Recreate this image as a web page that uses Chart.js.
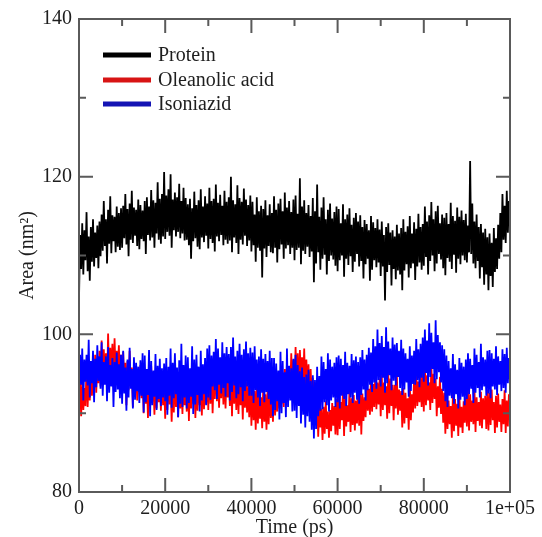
<!DOCTYPE html>
<html>
<head>
<meta charset="utf-8">
<script src="https://cdn.jsdelivr.net/npm/chart.js@4.4.1/dist/chart.umd.min.js"></script>
<style>
  html, body { margin: 0; padding: 0; background: #ffffff; }
  #wrap { width: 542px; height: 537px; }
</style>
</head>
<body>
<div id="wrap"><canvas id="c" width="542" height="537"></canvas></div>
<script>
const TIME_STEP_PS = 250;
const SERIES_NAMES = ["Protein", "Oleanolic acid", "Isoniazid"];

const protein = [
104.5,112.6,108.3,114.1,107.6,113.2,109.4,115.5,108.0,112.4,106.8,113.6,109.2,114.6,108.6,112.9,109.7,113.8,108.4,114.3,
109.9,115.2,110.6,116.9,111.2,114.6,109.0,115.8,111.5,117.5,110.3,115.1,111.8,114.9,110.4,116.2,111.1,115.4,110.7,116.0,
111.0,116.3,112.2,117.8,111.4,115.9,109.9,116.6,112.0,118.2,111.6,116.1,112.5,115.8,111.2,117.1,110.8,116.4,112.1,115.7,
111.8,116.9,110.2,117.4,112.6,116.2,111.9,118.3,112.3,117.0,111.0,116.7,112.8,119.3,112.0,117.2,111.5,117.8,112.4,120.6,
112.1,117.6,113.0,118.4,112.5,120.3,111.0,117.1,113.2,118.0,112.4,117.4,113.0,119.1,112.2,116.9,112.8,118.6,111.9,117.3,
112.0,116.5,111.3,117.2,109.6,116.0,111.8,118.1,112.2,116.4,111.1,117.0,110.8,118.4,112.3,116.2,111.7,117.5,112.5,116.6,
110.9,118.6,112.1,116.9,111.6,117.2,110.5,119.0,112.4,116.7,111.8,117.7,112.6,116.3,111.3,118.2,112.0,116.8,111.5,117.4,
111.9,120.0,110.4,117.0,112.3,116.5,111.6,118.9,110.2,117.3,112.0,116.8,111.4,118.5,112.5,117.1,111.2,116.4,111.9,117.6,
110.5,116.8,111.3,115.2,109.2,117.4,111.0,115.6,110.6,116.3,107.2,115.9,110.9,117.0,109.8,115.1,111.2,116.5,110.4,115.4,
110.3,117.5,111.0,115.8,109.1,116.6,110.8,117.2,111.4,115.6,109.6,118.0,110.9,116.1,111.3,116.9,110.2,115.5,111.0,117.1,
109.4,117.6,110.7,115.3,111.0,119.8,108.9,116.2,110.6,117.0,110.2,115.4,111.1,116.4,109.8,115.0,110.5,117.3,106.6,115.6,
109.0,119.0,110.4,114.9,108.2,116.1,109.6,117.4,110.1,114.6,107.6,115.8,109.3,116.6,110.0,114.7,109.5,115.5,108.7,116.2,
108.0,115.9,109.4,114.1,110.0,116.5,107.3,114.6,109.6,115.2,108.8,116.0,109.9,113.9,107.9,114.8,109.2,115.4,110.2,114.3,
108.6,115.1,109.3,113.6,107.1,114.5,108.9,114.0,109.6,113.2,106.8,115.0,108.2,114.2,109.4,113.5,108.5,114.6,109.1,113.3,
107.4,114.3,108.6,112.6,104.3,113.6,107.9,114.1,108.8,112.9,106.2,113.2,108.3,112.4,107.0,113.9,108.1,112.8,107.6,113.5,
105.6,114.6,108.1,113.0,108.9,113.7,107.2,115.0,108.4,112.8,109.0,114.2,106.9,113.4,108.6,115.3,109.1,113.6,108.2,114.0,
108.7,116.2,109.8,114.3,107.6,115.1,109.3,116.8,110.0,114.6,108.0,115.6,109.0,116.3,110.2,114.1,109.5,115.2,108.4,114.8,
107.5,115.4,109.7,114.0,109.2,116.7,108.3,115.0,110.1,114.4,107.8,116.1,109.6,114.9,108.9,115.7,110.0,114.5,109.4,115.3,
109.1,113.8,110.4,122.0,110.2,116.6,109.0,114.3,108.4,115.2,109.3,113.6,107.1,114.0,108.5,112.9,106.3,113.4,107.6,112.3,
105.6,112.8,107.4,111.6,106.0,113.5,107.9,112.2,108.3,113.9,109.6,115.4,110.4,117.8,112.0,116.3,111.6,118.2,112.9,116.9,
113.8
];

const oleanolicAcid = [
91.0,93.8,89.6,94.1,90.4,93.2,90.9,96.0,90.8,94.4,91.6,95.5,92.2,94.9,93.0,97.4,92.6,96.8,93.8,97.9,
93.4,99.2,94.6,98.1,95.0,97.6,93.0,100.1,94.9,98.3,95.4,98.8,93.7,99.5,94.8,97.9,95.2,98.6,94.1,97.4,
92.3,97.8,93.2,96.4,91.0,96.6,92.9,97.9,93.5,95.8,90.8,96.2,92.4,95.6,91.6,95.4,92.7,96.1,91.9,95.0,
90.0,95.6,91.2,94.1,89.4,94.8,90.9,96.0,91.5,93.9,89.8,94.5,90.6,95.1,91.4,94.2,90.3,94.7,91.0,93.8,
89.3,94.8,90.4,95.5,91.1,93.6,88.9,94.2,90.1,95.0,90.8,93.7,89.5,94.6,90.6,93.9,89.9,94.4,91.0,93.5,
90.2,95.3,89.0,94.4,90.6,95.8,91.2,93.9,89.4,94.1,90.3,95.0,91.0,94.2,89.7,94.8,90.5,93.6,91.1,95.2,
90.4,96.2,91.2,95.4,90.0,94.6,91.8,96.5,91.5,95.8,90.7,94.9,91.9,96.0,91.1,95.2,90.6,95.7,92.0,94.8,
90.9,95.7,89.6,96.1,91.2,94.3,90.4,95.0,89.9,94.6,91.0,93.9,89.2,95.2,90.7,94.0,90.1,93.5,89.5,94.1,
88.4,93.6,89.1,92.8,87.9,93.9,88.7,92.5,89.3,92.0,88.1,93.3,88.9,92.4,87.9,92.9,88.6,93.1,89.4,92.6,
88.9,93.8,89.7,92.9,90.2,94.6,90.6,95.0,91.2,94.1,90.8,95.6,91.6,96.4,92.5,95.5,92.8,97.6,93.2,96.8,
93.0,98.4,94.0,97.6,92.8,98.0,94.4,97.1,93.6,98.2,93.1,96.8,92.9,96.2,91.4,95.6,92.0,94.5,90.6,93.8,
89.0,92.2,87.0,91.0,88.2,90.6,86.6,90.8,87.4,91.5,88.0,90.2,86.9,90.4,87.7,91.3,88.4,90.9,87.3,91.8,
87.2,92.6,88.0,91.4,89.1,93.0,87.1,92.2,88.3,91.0,88.9,92.8,87.6,91.9,88.5,92.3,87.8,91.6,88.7,92.5,
88.4,93.2,87.3,92.5,89.0,92.0,89.5,94.0,90.3,93.1,89.8,94.6,90.2,93.7,90.8,95.0,90.5,93.9,91.1,94.4,
89.6,94.8,90.4,93.9,91.0,93.4,89.3,95.2,90.0,94.4,90.9,93.6,89.1,93.6,90.6,94.9,89.8,93.0,90.3,92.8,
88.2,93.2,88.7,92.6,89.4,91.9,87.9,93.8,89.1,92.4,90.1,94.6,90.6,95.3,90.9,94.0,91.4,94.7,90.8,95.1,
90.2,95.9,91.0,94.8,91.6,93.9,90.4,96.2,91.3,95.0,91.8,94.4,89.6,93.4,90.7,94.6,89.9,93.1,88.8,92.6,
87.4,92.1,88.0,91.6,88.6,90.9,86.9,92.4,87.7,91.8,88.4,91.2,87.1,92.3,88.2,90.8,87.5,91.5,88.8,92.0,
88.3,93.0,87.8,92.4,88.9,91.6,88.6,93.2,87.6,92.0,89.0,91.4,88.4,92.7,88.1,91.9,89.2,92.2,88.0,93.0,
87.8,92.6,88.5,93.0,89.1,91.4,87.5,92.2,88.2,92.5,88.9,91.1,87.6,91.8,88.6,92.9,87.5,91.6,88.3,92.4,
89.0
];

const isoniazid = [
92.8,97.4,93.6,98.2,91.6,96.8,94.0,97.4,93.5,99.3,92.0,96.6,93.8,97.9,91.4,96.9,93.3,98.6,94.1,97.2,
93.1,99.0,92.2,96.5,93.6,97.2,91.5,98.4,92.6,96.1,93.4,97.0,90.8,96.5,92.7,97.7,93.0,96.2,91.9,97.4,
91.2,97.9,92.5,95.8,90.3,96.8,92.0,98.3,93.1,95.6,90.6,97.1,91.7,96.4,92.8,95.9,91.3,96.7,92.2,97.6,
90.1,97.3,91.4,95.6,92.3,98.0,89.6,96.6,91.0,95.4,92.1,97.5,90.4,96.0,91.8,96.9,90.9,95.7,92.0,96.3,
91.5,97.0,89.8,95.9,92.2,98.2,90.7,96.4,91.9,97.6,92.4,95.8,89.5,96.7,91.2,98.8,90.8,96.1,92.0,97.3,
90.6,97.1,91.3,95.7,92.1,98.5,89.9,96.8,91.1,97.4,92.3,95.9,90.2,97.9,91.6,96.2,92.4,97.0,91.0,98.2,
92.0,98.6,91.7,97.3,93.4,97.8,92.9,99.4,91.8,98.2,93.6,97.1,92.5,99.0,93.2,97.6,92.1,98.4,93.8,97.5,
91.6,98.4,92.7,99.6,93.5,97.2,91.9,97.9,92.4,98.8,93.3,97.4,91.5,98.1,92.8,99.1,93.4,97.6,92.2,98.3,
92.2,97.7,91.3,98.5,92.9,96.8,92.0,97.2,90.9,98.1,92.6,96.9,91.4,97.5,92.7,96.6,91.8,97.9,91.1,97.0,
89.6,97.0,90.4,96.3,91.5,95.4,89.2,97.8,90.0,96.6,91.3,95.2,89.5,98.2,90.8,96.0,91.6,95.7,90.2,96.9,
90.3,97.4,89.4,96.1,90.9,95.3,88.7,95.8,89.8,94.6,88.2,94.9,89.6,95.5,88.9,94.1,87.9,94.8,86.8,94.2,
88.0,95.9,89.6,94.7,90.3,97.2,90.5,96.5,91.4,95.6,91.0,97.6,90.2,96.8,91.6,95.9,92.0,96.4,90.8,97.1,
91.4,97.3,90.6,96.9,92.2,96.1,91.8,97.8,90.9,96.4,92.4,96.0,92.0,97.5,91.3,96.7,92.6,97.2,91.7,96.5,
91.2,97.1,92.3,98.0,93.0,96.8,91.6,97.4,92.9,98.3,93.6,97.7,92.7,99.4,93.9,98.5,93.1,100.6,94.2,98.9,
93.4,99.8,94.5,98.4,92.6,100.9,93.8,99.1,94.8,98.2,92.9,99.6,94.1,98.7,93.5,98.9,94.6,97.9,93.2,99.3,
92.3,98.2,93.0,97.6,93.9,96.9,92.1,98.5,92.8,97.3,93.7,97.9,93.6,99.4,94.2,98.1,93.3,98.8,94.5,99.6,
94.0,100.6,95.1,99.2,93.5,101.4,94.6,100.2,95.6,99.0,93.8,101.8,94.3,99.9,95.2,99.0,93.9,98.6,92.8,98.1,
91.5,97.3,90.8,96.6,92.2,95.7,91.9,97.5,91.2,96.2,92.4,95.5,90.6,97.0,91.7,96.4,92.1,95.9,91.0,96.8,
91.8,97.6,92.4,96.9,93.1,96.1,91.3,98.2,92.6,97.4,93.2,96.5,92.0,98.8,92.9,97.1,93.4,96.8,92.2,97.9,
92.5,98.0,91.9,97.6,93.4,96.9,93.0,98.5,92.3,97.2,93.6,96.6,92.8,98.1,93.2,97.5,92.6,98.3,93.8,97.0,
94.0
];

// axis ticks
const X_MAJOR = [0, 20000, 40000, 60000, 80000, 100000];
const X_MINOR = [10000, 30000, 50000, 70000, 90000];
const Y_MAJOR = [80, 100, 120, 140];
const Y_MINOR = [90, 110, 130];
const X_TICK_LABELS = {0: "0", 20000: "20000", 40000: "40000", 60000: "60000", 80000: "80000", 100000: "1e+05"};

// ---- build datasets ----
function toPoints(values) {
  return values.map((v, i) => ({ x: i * TIME_STEP_PS, y: v }));
}
const COLORS = ["#000000", "#ff0000", "#0000ff"];
const LEGEND_COLORS = ["#000000", "#d81414", "#1414b4"];
const allSeries = [protein, oleanolicAcid, isoniazid];

const FONT = "'Liberation Serif', 'DejaVu Serif', serif";
const TEXT_COLOR = "#1e1e1e";
const AXIS_COLOR = "#5a5a5a";

// frame + inward ticks (major and minor) on all four sides
const framePlugin = {
  id: "frame",
  afterDatasetsDraw(chart) {
    const { ctx, chartArea: a, scales } = chart;
    const xs = scales.x, ys = scales.y;
    ctx.save();
    ctx.strokeStyle = AXIS_COLOR;
    ctx.lineWidth = 2;
    ctx.strokeRect(a.left, a.top, a.right - a.left, a.bottom - a.top);
    const major = 14, minor = 7;
    ctx.beginPath();
    const xt = (vals, len) => vals.forEach(v => {
      const px = xs.getPixelForValue(v);
      ctx.moveTo(px, a.bottom); ctx.lineTo(px, a.bottom - len);
      ctx.moveTo(px, a.top); ctx.lineTo(px, a.top + len);
    });
    const yt = (vals, len) => vals.forEach(v => {
      const py = ys.getPixelForValue(v);
      ctx.moveTo(a.left, py); ctx.lineTo(a.left + len, py);
      ctx.moveTo(a.right, py); ctx.lineTo(a.right - len, py);
    });
    xt(X_MAJOR, major); xt(X_MINOR, minor);
    yt(Y_MAJOR, major); yt(Y_MINOR, minor);
    ctx.stroke();
    ctx.restore();
  }
};

// legend in the top-left corner of the plot
const legendPlugin = {
  id: "innerLegend",
  afterDraw(chart) {
    const { ctx, chartArea: a } = chart;
    ctx.save();
    const x0 = a.left + 24, x1 = a.left + 72;
    const ys = [a.top + 36, a.top + 61, a.top + 85];
    chart.data.datasets.forEach((ds, i) => {
      ctx.strokeStyle = LEGEND_COLORS[i];
      ctx.lineWidth = 5;
      ctx.beginPath();
      ctx.moveTo(x0, ys[i]); ctx.lineTo(x1, ys[i]);
      ctx.stroke();
      ctx.fillStyle = TEXT_COLOR;
      ctx.font = "20px " + FONT;
      ctx.textBaseline = "middle";
      ctx.textAlign = "left";
      ctx.fillText(ds.label, x1 + 7, ys[i] + 1);
    });
    ctx.restore();
  }
};

new Chart(document.getElementById("c"), {
  type: "line",
  data: {
    datasets: allSeries.map((vals, i) => ({
      label: SERIES_NAMES[i],
      data: toPoints(vals),
      borderColor: COLORS[i],
      borderWidth: 1.8,
      borderJoinStyle: "miter",
      pointRadius: 0,
      tension: 0,
      fill: false,
      order: 2 - i
    }))
  },
  options: {
    responsive: false,
    animation: false,
    parsing: false,
    layout: { padding: { left: 0, right: 32, top: 18, bottom: 0 } },
    plugins: { legend: { display: false }, tooltip: { enabled: false } },
    scales: {
      x: {
        type: "linear",
        min: 0, max: 100000,
        grid: { display: false, drawTicks: false },
        border: { display: false },
        afterFit(s) { s.height = 45; },
        afterBuildTicks(s) { s.ticks = X_MAJOR.map(v => ({ value: v })); },
        ticks: {
          autoSkip: false, maxRotation: 0, minRotation: 0, padding: 5,
          color: TEXT_COLOR, font: { family: FONT, size: 20 },
          callback: v => X_TICK_LABELS[v]
        },
        title: {
          display: true, text: "Time (ps)", color: TEXT_COLOR,
          font: { family: FONT, size: 20, lineHeight: 1 },
          padding: { top: 0, bottom: -1 }
        }
      },
      y: {
        type: "linear",
        min: 80, max: 140,
        grid: { display: false, drawTicks: false },
        border: { display: false },
        afterFit(s) { s.width = 79; },
        afterBuildTicks(s) { s.ticks = Y_MAJOR.map(v => ({ value: v })); },
        ticks: {
          autoSkip: false, padding: 7,
          color: TEXT_COLOR, font: { family: FONT, size: 20 },
          callback: v => String(v)
        },
        title: {
          display: true, text: "Area (nm²)", color: TEXT_COLOR,
          font: { family: FONT, size: 20, lineHeight: 1 },
          padding: { top: 18, bottom: 0 }
        }
      }
    }
  },
  plugins: [framePlugin, legendPlugin]
});
</script>
</body>
</html>
